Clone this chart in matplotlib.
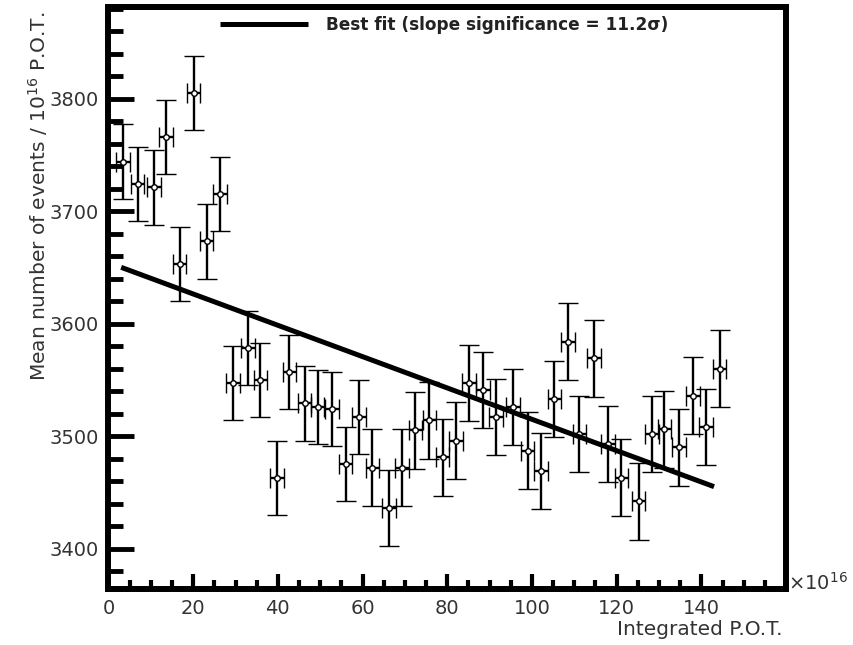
import matplotlib
matplotlib.use("Agg")
import matplotlib.pyplot as plt
from matplotlib.ticker import MultipleLocator, FixedLocator

# ---- data ----
pot = [3.4, 6.9, 10.7, 13.6, 16.8, 20.1, 23.2, 26.4, 29.4, 32.9, 35.9, 39.8,
       42.7, 46.3, 49.4, 52.8, 56.0, 59.1, 62.3, 66.2, 69.3, 72.5, 75.8, 78.9,
       82.1, 85.2, 88.4, 91.5, 95.5, 99.0, 102.2, 105.3, 108.5, 111.2, 114.7,
       117.9, 121.1, 125.2, 128.4, 131.3, 134.7, 138.0, 141.1, 144.3]
mean_events = [3744, 3724, 3721, 3766, 3653, 3805, 3673, 3715, 3547, 3578,
               3550, 3463, 3557, 3529, 3526, 3524, 3475, 3517, 3472, 3436,
               3472, 3505, 3514, 3481, 3496, 3547, 3541, 3517, 3526, 3487,
               3469, 3533, 3584, 3502, 3569, 3493, 3463, 3442, 3502, 3506,
               3490, 3536, 3508, 3560]
y_err = [33] * 18 + [34] * 26
x_err = [1.6] * 44

fit_x = [3.0, 143.0]
fit_y = [3650.0, 3455.0]

x_ticks = [0, 20, 40, 60, 80, 100, 120, 140]
y_ticks = [3400, 3500, 3600, 3700, 3800]

legend_label = "Best fit (slope significance = 11.2σ)"
x_label = "Integrated P.O.T."
y_label = r"Mean number of events / 10$^{16}$ P.O.T."
x_exponent = r"$\times$10$^{16}$"

# ---- figure ----
plt.rcParams['font.family'] = ['DejaVu Sans']
txt_color = '#333333'

fig = plt.figure(figsize=(8.54, 6.45), dpi=100)
ax = fig.add_axes([0.127, 0.0868, 0.7934, 0.9016])

ax.errorbar(pot, mean_events, yerr=y_err, xerr=x_err, fmt='o', ms=4,
            mfc='white', mec='black', mew=1.0, ecolor='black',
            elinewidth=1.7, capsize=7.5, capthick=1.7, zorder=2)
ax.plot(fit_x, fit_y, color='black', lw=3.6, solid_capstyle='butt',
        label=legend_label, zorder=3)

ax.set_xlim(0, 160)
ax.set_ylim(3364, 3881)

ax.xaxis.set_major_locator(FixedLocator(x_ticks))
ax.xaxis.set_minor_locator(MultipleLocator(5))
ax.yaxis.set_major_locator(FixedLocator(y_ticks))
ax.yaxis.set_minor_locator(MultipleLocator(20))

for s in ax.spines.values():
    s.set_linewidth(4.3)

ax.tick_params(axis='x', which='major', direction='in', length=11, width=3,
               pad=7, labelsize=14, labelcolor=txt_color)
ax.tick_params(axis='x', which='minor', direction='in', length=6.5, width=3)
ax.tick_params(axis='y', which='major', direction='in', length=19, width=3.5,
               pad=7, labelsize=14, labelcolor=txt_color)
ax.tick_params(axis='y', which='minor', direction='in', length=10.5, width=3.5)
ax.tick_params(top=False, right=False, which='both')

ax.set_xlabel(x_label, loc='right', fontsize=14.5, color=txt_color)
ax.xaxis.set_label_coords(0.995, -0.053)
ax.set_ylabel(y_label, loc='top', fontsize=14.5, color=txt_color)
ax.yaxis.set_label_coords(-0.086, 0.992)

ax.text(1.003, 0.01, x_exponent, transform=ax.transAxes, ha='left',
        va='center', fontsize=14, color=txt_color)

leg = ax.legend(loc='center', bbox_to_anchor=(0.496, 0.970), frameon=False,
                handlelength=5.2, handletextpad=1.07, borderpad=0,
                prop={'weight': 'bold', 'size': 12.2})
for t in leg.get_texts():
    t.set_color('#222222')

fig.savefig("out.png", dpi=100)
